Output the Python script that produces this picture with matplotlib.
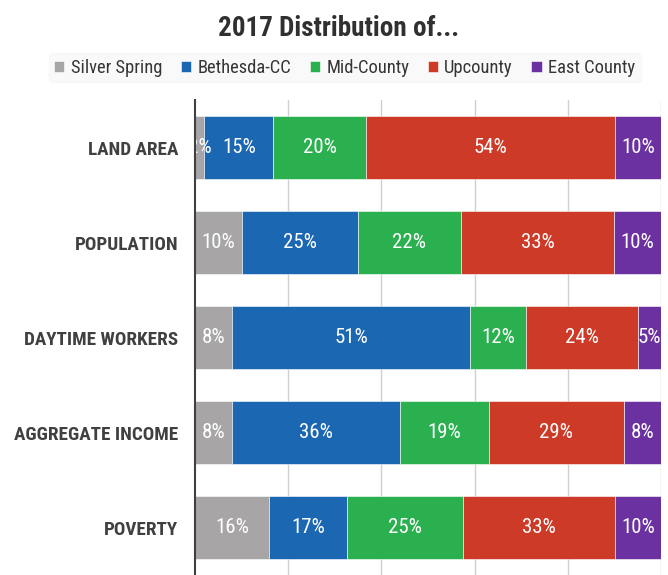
import matplotlib
matplotlib.use("Agg")
import matplotlib.pyplot as plt
from matplotlib import font_manager
import numpy as np

# prefer a condensed face if one is around, else Roboto
family = "DejaVu Sans"
for name in ["Roboto Condensed", "Liberation Sans Narrow", "Noto Sans Condensed", "Roboto"]:
    try:
        font_manager.findfont(name, fallback_to_default=False)
        family = name
        break
    except ValueError:
        pass
plt.rcParams['font.family'] = [family, 'DejaVu Sans']

categories = ["LAND AREA", "POPULATION", "DAYTIME WORKERS", "AGGREGATE INCOME", "POVERTY"]
regions = ["Silver Spring", "Bethesda-CC", "Mid-County", "Upcounty", "East County"]
silver_spring = [2, 10, 8, 8, 16]
bethesda_cc = [15, 25, 51, 36, 17]
mid_county = [20, 22, 12, 19, 25]
upcounty = [54, 33, 24, 29, 33]
east_county = [10, 10, 5, 8, 10]

colors = ["#a7a5a6", "#1b67b2", "#2bb04f", "#cd3a27", "#6b31a0"]

values = np.array([silver_spring, bethesda_cc, mid_county, upcounty, east_county], dtype=float)
# 100% stacked: each row is scaled to its own total
shares = values / values.sum(axis=0) * 100

fig = plt.figure(figsize=(6.68, 5.75), dpi=100)
ax = fig.add_axes([195 / 668, -5 / 575, 466 / 668, 480 / 575])

y = np.arange(len(categories))
left = np.zeros(len(categories))
for i, name in enumerate(regions):
    bars = ax.barh(y, shares[i], left=left, height=0.66, color=colors[i],
                   edgecolor="white", linewidth=0.4, label=name, zorder=3)
    for j, b in enumerate(bars):
        ax.text(left[j] + shares[i][j] / 2, y[j], f"{int(values[i][j])}%",
                ha="center", va="center", color="white", fontsize=15, zorder=4)
    left += shares[i]

ax.set_xlim(0, 100)
ax.set_ylim(len(categories) - 0.45, -0.5)
ax.set_yticks(y)
ax.set_yticklabels(categories, fontsize=13.8, fontweight="bold", color="#404040")
ax.tick_params(axis="y", length=0, pad=12)
ax.set_xticks([20, 40, 60, 80, 100])
ax.tick_params(axis="x", length=0, labelbottom=False)
ax.grid(axis="x", color="#d0d0d0", linewidth=1, zorder=0)
for s in ["top", "right", "bottom"]:
    ax.spines[s].set_visible(False)
ax.spines["left"].set_color("#404040")
ax.spines["left"].set_linewidth(1.5)
ax.spines["left"].set_zorder(5)

fig.text(0.507, 0.95, "2017 Distribution of...", ha="center", va="center",
         fontsize=19.5, fontweight="bold", color="#303030")

leg = fig.legend(loc="center", bbox_to_anchor=(0.516, 0.882), ncol=5, frameon=True,
                 fontsize=13.3, handlelength=0.55, handleheight=0.55, handletextpad=0.35,
                 columnspacing=1.0, borderpad=0.3)
leg.get_frame().set_facecolor("#f8f8f8")
leg.get_frame().set_edgecolor("#f8f8f8")
for t in leg.get_texts():
    t.set_color("#353535")

fig.savefig("out.png", dpi=100)
